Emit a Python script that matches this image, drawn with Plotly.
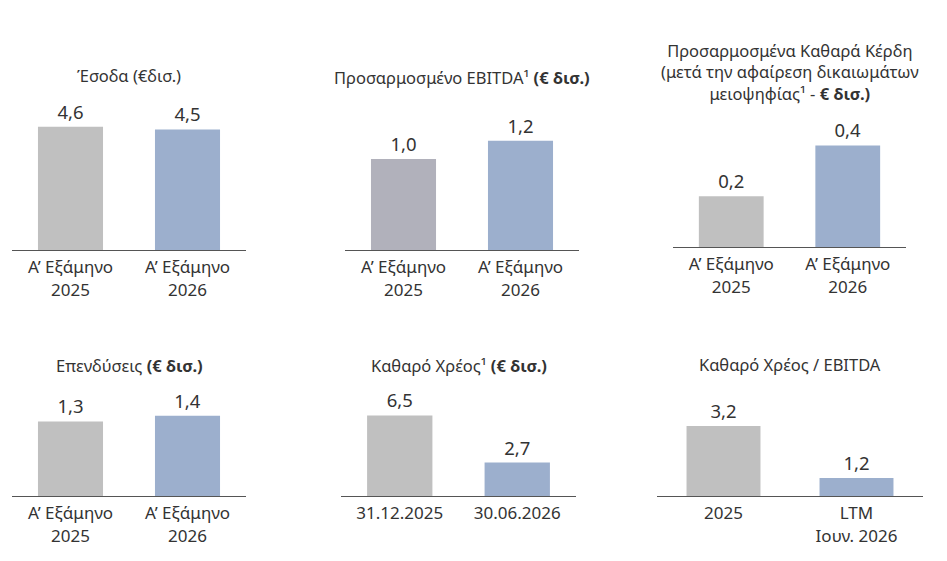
import plotly.graph_objects as go

# Data
titles = [
    "Έσοδα (€δισ.)",
    "Προσαρμοσμένο EBITDA¹ <b>(€ δισ.)</b>",
    "Προσαρμοσμένα Καθαρά Κέρδη<br>(μετά την αφαίρεση δικαιωμάτων<br>μειοψηφίας¹ - <b>€ δισ.)</b>",
    "Επενδύσεις <b>(€ δισ.)</b>",
    "Καθαρό Χρέος¹ <b>(€ δισ.)</b>",
    "Καθαρό Χρέος / EBITDA",
]
half_years = ["Α’ Εξάμηνο<br>2025", "Α’ Εξάμηνο<br>2026"]
debt_dates = ["31.12.2025", "30.06.2026"]
leverage_periods = ["2025", "LTM<br>Ιουν. 2026"]

revenue = [4.6, 4.5]
ebitda = [1.0, 1.2]
net_income = [0.2, 0.4]
capex = [1.3, 1.4]
net_debt = [6.5, 2.7]
leverage = [3.2, 1.2]

W, H = 947, 561
GREY = "#c0c0c0"
GREY_2 = "#b1b1bb"
BLUE = "#9cafcd"
TEXT = "#333333"
FONT = "Noto Sans"

# (categories, values, colours, x px span, y px top, y px baseline, px per unit, range start, title y px)
panels = [
    (half_years, revenue, [GREY, BLUE], (12, 246), 100, 250, 26.8, 0, 73),
    (half_years, ebitda, [GREY_2, BLUE], (345, 579), 100, 250, 91.0, 0, 75),
    (half_years, net_income, [GREY, BLUE], (673, 906), 100, 247, 254.0, 0, 48),
    (half_years, capex, [GREY, BLUE], (12, 246), 350, 496, 57.4, 0, 363),
    (debt_dates, net_debt, [GREY, BLUE], (341, 576), 350, 496, 12.4, 0, 363),
    (leverage_periods, leverage, [GREY, BLUE], (657, 923), 350, 496, 26.0, 0.51, 362),
]

fig = go.Figure()
annotations = []

for i, (cats, vals, cols, xspan, ytop, ybase, scale, y0, ty) in enumerate(panels, start=1):
    sfx = "" if i == 1 else str(i)
    fig.add_trace(go.Bar(
        x=cats, y=vals, marker=dict(color=cols, line=dict(width=0)),
        width=0.556, texttemplate="%{y:.1f}", textposition="outside",
        textfont=dict(size=18.5, color=TEXT, family=FONT),
        cliponaxis=False, showlegend=False,
        xaxis="x" + sfx, yaxis="y" + sfx,
    ))
    fig.layout["xaxis" + sfx] = dict(
        domain=[xspan[0] / W, xspan[1] / W], anchor="y" + sfx,
        showline=True, linecolor="#555555", linewidth=1,
        showgrid=False, zeroline=False, ticks="",
        tickfont=dict(size=17, color=TEXT, family=FONT),
        ticklabelstandoff=2,
        range=[-0.5, 1.5], fixedrange=True,
    )
    fig.layout["yaxis" + sfx] = dict(
        domain=[1 - ybase / H, 1 - ytop / H], anchor="x" + sfx,
        range=[y0, y0 + (ybase - ytop) / scale],
        visible=False, fixedrange=True,
    )
    annotations.append(dict(
        text=titles[i - 1], xref="paper", yref="paper",
        x=(xspan[0] + xspan[1]) / 2 / W, y=1 - (ty - 11.5) / H,
        xanchor="center", yanchor="top", showarrow=False,
        font=dict(size=16.5, color=TEXT, family=FONT),
    ))

fig.update_layout(
    width=W, height=H,
    margin=dict(l=0, r=0, t=0, b=0),
    paper_bgcolor="white", plot_bgcolor="white",
    separators=",.",
    font=dict(family=FONT, color=TEXT),
    annotations=annotations,
)

fig.write_html("out.html", config={"displayModeBar": False},
               post_script="document.body.style.margin = '0';")
